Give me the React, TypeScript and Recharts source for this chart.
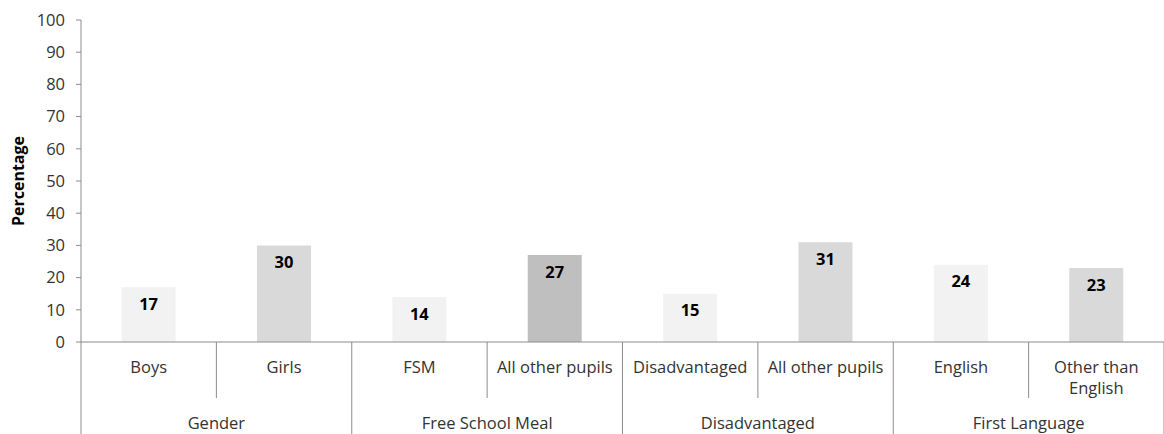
import { BarChart, Bar, XAxis, YAxis, Cell, LabelList } from "recharts";

const categories = ["Boys", "Girls", "FSM", "All other pupils", "Disadvantaged", "All other pupils", "English", "Other than English"];
const categoryGroups = ["Gender", "Gender", "Free School Meal", "Free School Meal", "Disadvantaged", "Disadvantaged", "First Language", "First Language"];
const percentages = [17, 30, 14, 27, 15, 31, 24, 23];
const barColors = ["#f2f2f2", "#d9d9d9", "#f2f2f2", "#bfbfbf", "#f2f2f2", "#d9d9d9", "#f2f2f2", "#d9d9d9"];
const yTicks = [0, 10, 20, 30, 40, 50, 60, 70, 80, 90, 100];

const FONT = "'Open Sans', sans-serif";
const AXIS = "#8c8c8c";
const TEXT = "#333333";
const CHART_H = 434;

const data = categories.map((name, i) => ({ name, group: categoryGroups[i], value: percentages[i] }));

// split long labels roughly in half, like Excel wraps them
function wrap(label: string): string[] {
  if (label.length <= 16) return [label];
  const mid = label.length / 2;
  let best = -1;
  for (let i = 0; i < label.length; i++) {
    if (label[i] === " " && (best < 0 || Math.abs(i - mid) < Math.abs(best - mid))) best = i;
  }
  return best < 0 ? [label] : [label.slice(0, best), label.slice(best + 1)];
}

function CategoryTick(props: any) {
  const { x, y, payload, index } = props;
  const half = payload.offset || 67.7;
  const lines = wrap(String(payload.value));
  const lastInGroup = index % 2 === 1;
  const group = data[index].group;
  return (
    <g>
      {index === 0 && <line x1={x - half} y1={y} x2={x - half} y2={CHART_H} stroke={AXIS} />}
      <line x1={x + half} y1={y} x2={x + half} y2={lastInGroup ? CHART_H : y + 56} stroke={AXIS} />
      {lines.map((ln, i) => (
        <text key={i} x={x} y={y + 24 + i * 21} textAnchor="middle" dominantBaseline="central" fill={TEXT} fontSize={16.5} fontFamily={FONT}>
          {ln}
        </text>
      ))}
      {lastInGroup && (
        <text x={x - half} y={y + 80} textAnchor="middle" dominantBaseline="central" fill={TEXT} fontSize={16.5} fontFamily={FONT}>
          {group}
        </text>
      )}
    </g>
  );
}

function YTitle(props: any) {
  const vb = props.viewBox || { x: 0, y: 20, height: 322 };
  const cx = 18;
  const cy = vb.y + vb.height / 2;
  return (
    <text x={cx} y={cy} transform={`rotate(-90 ${cx} ${cy})`} textAnchor="middle" dominantBaseline="central" fontSize={16} fontWeight="bold" fontFamily={FONT} fill="#000">
      Percentage
    </text>
  );
}

export default function App() {
  return (
    <div style={{ position: "absolute", left: 0, top: 0, background: "#fff" }}>
      <BarChart width={1164} height={CHART_H} data={data} margin={{ top: 20, right: 0, bottom: 0, left: 0 }} barCategoryGap="30%">
        <YAxis
          domain={[0, 100]}
          ticks={yTicks}
          width={81}
          tickSize={5}
          tickMargin={11}
          stroke={AXIS}
          tick={{ fill: TEXT, fontSize: 16.5, fontFamily: FONT }}
          label={<YTitle />}
          interval={0}
        />
        <XAxis
          dataKey="name"
          height={92}
          stroke={AXIS}
          tickLine={false}
          tickSize={0}
          tickMargin={0}
          interval={0}
          tick={<CategoryTick />}
        />
        <Bar dataKey="value" isAnimationActive={false}>
          {data.map((d, i) => (
            <Cell key={i} fill={barColors[i]} />
          ))}
          <LabelList dataKey="value" position="insideTop" offset={11} fill="#000" fontSize={16.5} fontWeight="bold" fontFamily={FONT} />
        </Bar>
      </BarChart>
    </div>
  );
}
